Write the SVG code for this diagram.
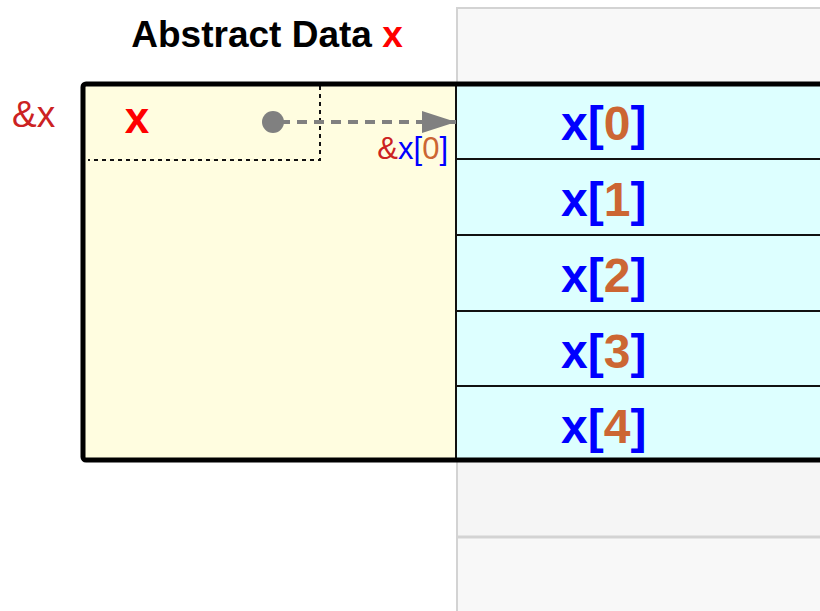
<svg xmlns="http://www.w3.org/2000/svg" width="820" height="611" viewBox="0 0 820 611">
<style>
text{font-family:"Liberation Sans",Arial,sans-serif}
.idx{font-size:48px;font-weight:bold;fill:#0000ff}
.num{fill:#cc6633}
.row{fill:#ddffff;stroke:#111;stroke-width:2}
.dot{fill:none;stroke:#111;stroke-width:2;stroke-dasharray:4,4}
</style>
<defs>
<marker id="arr" viewBox="0 0 34 22" refX="34" refY="11" markerWidth="34" markerHeight="22" markerUnits="userSpaceOnUse" orient="auto"><path d="M0,0L34,11L0,22z" fill="#808080"/></marker>
</defs>
<g id="memory-bg">
<rect x="457" y="8" width="370" height="610" fill="#f8f8f8" stroke="#d3d3d3" stroke-width="2"/>
<rect x="458" y="462" width="370" height="75" fill="#f5f5f5"/>
<line x1="457" y1="537" x2="820" y2="537" stroke="#d3d3d3" stroke-width="3"/>
</g>
<g id="title"><text x="267" y="47" text-anchor="middle" font-size="37" font-weight="bold" fill="#000">Abstract Data <tspan fill="#ff0000">x</tspan></text></g>
<g id="abstract-box">
<rect x="83" y="84" width="373" height="376" fill="#fffde0"/>
<path class="dot" d="M320,86V160H88"/>
<text x="137" y="133" text-anchor="middle" font-size="44" font-weight="bold" fill="#ff0000">x</text>
</g>
<g id="addr-label"><text x="12" y="127" font-size="37" fill="#cc2222">&amp;x</text></g>
<g id="array">
<rect class="row" x="456" y="84" width="380" height="75"/>
<rect class="row" x="456" y="159" width="380" height="76"/>
<rect class="row" x="456" y="235" width="380" height="76"/>
<rect class="row" x="456" y="311" width="380" height="75"/>
<rect class="row" x="456" y="386" width="380" height="74"/>
<text class="idx" x="561" y="140">x[<tspan class="num">0</tspan>]</text>
<text class="idx" x="561" y="216">x[<tspan class="num">1</tspan>]</text>
<text class="idx" x="561" y="292">x[<tspan class="num">2</tspan>]</text>
<text class="idx" x="561" y="368">x[<tspan class="num">3</tspan>]</text>
<text class="idx" x="561" y="443">x[<tspan class="num">4</tspan>]</text>
</g>
<g id="outline"><path d="M836,84H86a3,3 0 0 0-3,3V457a3,3 0 0 0 3,3H836" fill="none" stroke="#000" stroke-width="5"/></g>
<g id="connectors">
<circle cx="273" cy="122" r="11" fill="#808080"/>
<line x1="280" y1="122" x2="456" y2="122" stroke="#808080" stroke-width="4" stroke-dasharray="10,7" marker-end="url(#arr)"/>
<text x="448" y="159" text-anchor="end" font-size="31" fill="#cc2222">&amp;<tspan fill="#0000ff">x[</tspan><tspan class="num">0</tspan><tspan fill="#0000ff">]</tspan></text>
</g>
</svg>
